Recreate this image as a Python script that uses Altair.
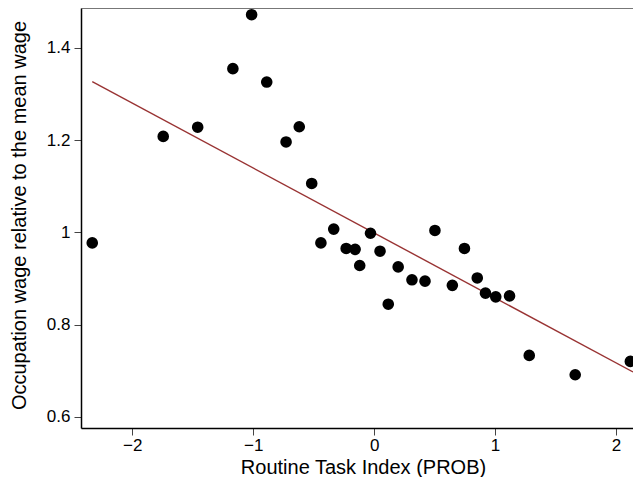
import altair as alt
import pandas as pd

# Scatter points: Routine Task Index (PROB) vs relative occupation wage
rti = [-2.331, -1.744, -1.459, -1.168, -1.013, -0.888, -0.728, -0.619, -0.516,
       -0.440, -0.334, -0.231, -0.157, -0.119, -0.030, 0.049, 0.117, 0.199,
       0.313, 0.421, 0.503, 0.647, 0.747, 0.853, 0.921, 1.006, 1.120, 1.283,
       1.663, 2.119]
wage = [0.977, 1.208, 1.228, 1.355, 1.472, 1.326, 1.196, 1.229, 1.106,
        0.977, 1.007, 0.965, 0.963, 0.928, 0.998, 0.959, 0.844, 0.925,
        0.897, 0.894, 1.004, 0.885, 0.965, 0.901, 0.868, 0.860, 0.862, 0.733,
        0.691, 0.720]

# Fitted line end points
fit_x = [-2.331, 2.141]
fit_y = [1.327, 0.697]

x_ticks = [-2, -1, 0, 1, 2]
y_ticks = [0.6, 0.8, 1.0, 1.2, 1.4]
x_domain = [-2.424, 2.141]
y_domain = [0.5755, 1.4866]

FONT = "Liberation Sans"
W, H = 552, 420

pts = pd.DataFrame({"x": rti, "y": wage})
fit = pd.DataFrame({"x": fit_x, "y": fit_y})

xscale = alt.Scale(domain=x_domain, nice=False, zero=False)
yscale = alt.Scale(domain=y_domain, nice=False, zero=False)

xaxis = alt.Axis(values=x_ticks, format="d", title="Routine Task Index (PROB)",
                 grid=False, domainColor="black", domainWidth=1.5,
                 tickColor="#444444", tickSize=7, tickWidth=1,
                 labelFont=FONT, labelFontSize=17, labelColor="black",
                 labelPadding=2, labelFlush=False,
                 titleFont=FONT, titleFontSize=20, titleFontWeight="normal",
                 titleColor="black", titleX=282, titleY=45,
                 titleBaseline="alphabetic", titleAnchor="middle")
yaxis = alt.Axis(values=y_ticks, format=".1~f",
                 title="Occupation wage relative to the mean wage",
                 grid=False, domainColor="black", domainWidth=1.5,
                 tickColor="#444444", tickSize=7, tickWidth=1,
                 labelFont=FONT, labelFontSize=17, labelColor="black",
                 labelPadding=4, labelFlush=False,
                 titleFont=FONT, titleFontSize=20, titleFontWeight="normal",
                 titleColor="black", titleX=-56, titleY=207,
                 titleBaseline="alphabetic", titleAnchor="middle", titleAngle=270)

scatter = alt.Chart(pts).mark_circle(size=135, color="black", opacity=1).encode(
    x=alt.X("x:Q", scale=xscale, axis=xaxis),
    y=alt.Y("y:Q", scale=yscale, axis=yaxis),
)

line = alt.Chart(fit).mark_line(color="#993333", strokeWidth=1.4, clip=True).encode(
    x=alt.X("x:Q", scale=xscale),
    y=alt.Y("y:Q", scale=yscale),
)

top = alt.Chart(pd.DataFrame({"a": [0]})).mark_rule(color="#555555", strokeWidth=1.5).encode(
    x=alt.value(0), x2=alt.value(W), y=alt.value(0)
)

chart = alt.layer(line, scatter, top).properties(
    width=W, height=H,
    autosize=alt.AutoSizeParams(type="none"),
    padding={"left": 73, "top": 0, "right": 0, "bottom": 49},
).configure_view(stroke=None).configure(background="white")

chart.save("out.html", embed_options={"renderer": "svg", "actions": False})
